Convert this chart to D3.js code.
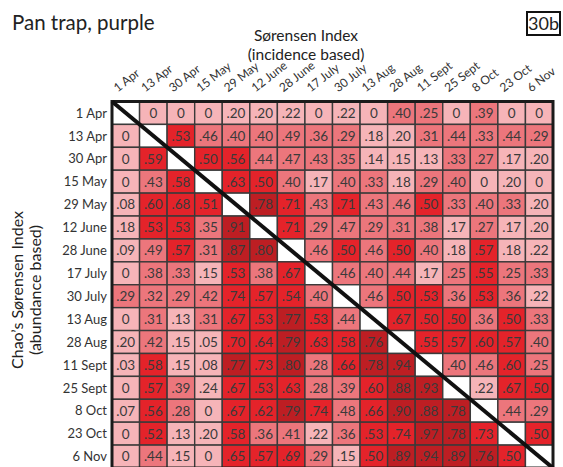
<!DOCTYPE html>
<html>
<head>
<meta charset="utf-8">
<script src="https://cdn.jsdelivr.net/npm/d3@7/dist/d3.min.js"></script>
<style>
  html, body { margin: 0; padding: 0; background: #fff; }
  svg { display: block; font-family: Lato, "Open Sans", sans-serif; }
</style>
</head>
<body>
<svg id="chart" width="563" height="467"></svg>
<script>
// Sampling dates (rows and columns share the same order)
const dates = ["1 Apr", "13 Apr", "30 Apr", "15 May", "29 May", "12 June", "28 June",
  "17 July", "30 July", "13 Aug", "28 Aug", "11 Sept", "25 Sept", "8 Oct", "23 Oct", "6 Nov"];

// Upper triangle: Sørensen index (incidence based); row i lists columns i+1 .. 15
const incidence = [
  [0, 0, 0, .20, .20, .22, 0, .22, 0, .40, .25, 0, .39, 0, 0],
  [.53, .46, .40, .40, .49, .36, .29, .18, .20, .31, .44, .33, .44, .29],
  [.50, .56, .44, .47, .43, .35, .14, .15, .13, .33, .27, .17, .20],
  [.63, .50, .40, .17, .40, .33, .18, .29, .40, 0, .20, 0],
  [.78, .71, .43, .71, .43, .46, .50, .33, .40, .33, .20],
  [.71, .29, .47, .29, .31, .38, .17, .27, .17, .20],
  [.46, .50, .46, .50, .40, .18, .57, .18, .22],
  [.46, .40, .44, .17, .25, .55, .25, .33],
  [.46, .50, .53, .36, .53, .36, .22],
  [.67, .50, .50, .36, .50, .33],
  [.55, .57, .60, .57, .40],
  [.40, .46, .60, .25],
  [.22, .67, .50],
  [.44, .29],
  [.50],
  []
];

// Lower triangle: Chao's Sørensen index (abundance based); row i lists columns 0 .. i-1
const abundance = [
  [],
  [0],
  [0, .59],
  [0, .43, .58],
  [.08, .60, .68, .51],
  [.18, .53, .53, .35, .91],
  [.09, .49, .57, .31, .87, .80],
  [0, .38, .33, .15, .53, .38, .67],
  [.29, .32, .29, .42, .74, .57, .54, .40],
  [0, .31, .13, .31, .67, .53, .77, .53, .44],
  [.20, .42, .15, .05, .70, .64, .79, .63, .58, .76],
  [.03, .58, .15, .08, .77, .73, .80, .28, .66, .78, .94],
  [0, .57, .39, .24, .67, .53, .63, .28, .39, .60, .88, .93],
  [.07, .56, .28, 0, .67, .62, .79, .74, .48, .66, .90, .88, .78],
  [0, .52, .13, .20, .58, .36, .41, .22, .36, .53, .74, .97, .78, .73],
  [0, .44, .15, 0, .65, .57, .69, .29, .15, .50, .89, .94, .89, .76, .50]
];

// Binned colour classes for similarity values
const binEdges = [0.25, 0.5, 0.75];
const binColors = ["#f6b4b8", "#ec767c", "#e4232a", "#bd1e23"];

// Flatten into cells
const cells = [];
dates.forEach((rowName, i) => {
  abundance[i].forEach((v, j) => cells.push({ row: rowName, col: dates[j], value: v }));
  cells.push({ row: rowName, col: rowName, value: null });
  incidence[i].forEach((v, k) => cells.push({ row: rowName, col: dates[i + 1 + k], value: v }));
});

const svg = d3.select("#chart");
const gridLeft = 112, gridRight = 553, gridTop = 101.5, gridBottom = 468;

const x = d3.scaleBand().domain(dates).range([gridLeft, gridRight]);
const y = d3.scaleBand().domain(dates).range([gridTop, gridBottom]);
const color = d3.scaleThreshold().domain(binEdges).range(binColors);
const fmt = v => v === 0 ? "0" : d3.format(".2f")(v).replace(/^0/, "");

// Cells
svg.append("g")
  .selectAll("rect")
  .data(cells)
  .join("rect")
  .attr("x", d => x(d.col))
  .attr("y", d => y(d.row))
  .attr("width", x.bandwidth())
  .attr("height", y.bandwidth())
  .attr("fill", d => d.value === null ? "#ffffff" : color(d.value))
  .attr("stroke", "#3a3a3a")
  .attr("stroke-width", 1.4);

// Cell values
svg.append("g")
  .selectAll("text")
  .data(cells.filter(d => d.value !== null))
  .join("text")
  .attr("x", d => x(d.col) + x.bandwidth() / 2)
  .attr("y", d => y(d.row) + y.bandwidth() / 2)
  .attr("dy", "0.36em")
  .attr("text-anchor", "middle")
  .attr("font-size", 13.5)
  .attr("fill", "#3a3a3a")
  .text(d => fmt(d.value));

// Outer frame
svg.append("rect")
  .attr("x", gridLeft).attr("y", gridTop)
  .attr("width", gridRight - gridLeft).attr("height", gridBottom - gridTop)
  .attr("fill", "none").attr("stroke", "#1a1a1a").attr("stroke-width", 3);

// Diagonal separating the two indices
svg.append("line")
  .attr("x1", x(dates[0])).attr("y1", y(dates[0]))
  .attr("x2", x(dates[dates.length - 1]) + x.bandwidth())
  .attr("y2", y(dates[dates.length - 1]) + y.bandwidth())
  .attr("stroke", "#111").attr("stroke-width", 4);

// Row labels
svg.append("g")
  .selectAll("text")
  .data(dates)
  .join("text")
  .attr("x", gridLeft - 5)
  .attr("y", d => y(d) + y.bandwidth() / 2)
  .attr("dy", "0.36em")
  .attr("text-anchor", "end")
  .attr("font-size", 13)
  .attr("fill", "#333")
  .text(d => d);

// Column labels (rotated)
svg.append("g")
  .selectAll("text")
  .data(dates)
  .join("text")
  .attr("transform", d => `translate(${x(d) + x.bandwidth() / 2 - 8},${gridTop - 9}) rotate(-38)`)
  .attr("text-anchor", "start")
  .attr("font-size", 12)
  .attr("fill", "#333")
  .text(d => d);

// Titles
svg.append("text")
  .attr("x", 12).attr("y", 30)
  .attr("font-size", 20.5).attr("fill", "#222")
  .text("Pan trap, purple");

svg.append("text")
  .attr("x", 306).attr("y", 41)
  .attr("text-anchor", "middle").attr("font-size", 15.5).attr("fill", "#222")
  .text("Sørensen Index");
svg.append("text")
  .attr("x", 306).attr("y", 60)
  .attr("text-anchor", "middle").attr("font-size", 15.5).attr("fill", "#222")
  .text("(incidence  based)");

const yTitle = svg.append("g").attr("transform", "translate(0,290)");
yTitle.append("text")
  .attr("transform", "translate(23,0) rotate(-90)")
  .attr("text-anchor", "middle").attr("font-size", 16).attr("fill", "#222")
  .text("Chao’s Sørensen Index");
yTitle.append("text")
  .attr("transform", "translate(41,0) rotate(-90)")
  .attr("text-anchor", "middle").attr("font-size", 16).attr("fill", "#222")
  .text("(abundance based)");

// Panel tag
svg.append("rect")
  .attr("x", 527).attr("y", 12).attr("width", 33).attr("height", 23)
  .attr("fill", "#fff").attr("stroke", "#111").attr("stroke-width", 2);
svg.append("text")
  .attr("x", 543.5).attr("y", 30)
  .attr("text-anchor", "middle").attr("font-size", 18).attr("fill", "#222")
  .text("30b");
</script>
</body>
</html>
